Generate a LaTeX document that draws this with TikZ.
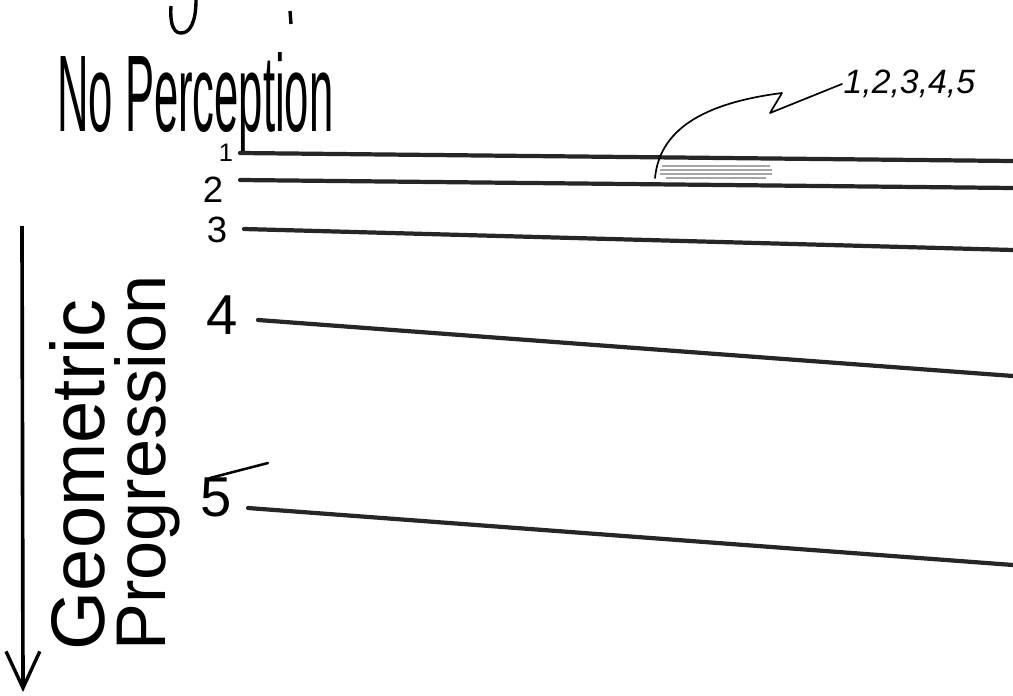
\documentclass[tikz,border=0pt]{standalone}
\usepackage{fontspec}
\setmainfont{Liberation Sans}
\usetikzlibrary{arrows.meta}

\begin{document}
\begin{tikzpicture}[x=0.025cm, y=-0.025cm,
        rule/.style={line width=3pt, black!85, line cap=round},
        num/.style={inner sep=0pt, font=\fontsize{#1}{#1}\selectfont},
        num/.default=22,
        pointer/.style={line width=1.2pt, black, line cap=round, line join=round},
        hatch/.style={line width=1.4pt, gray!70},
        axis/.style={line width=2.6pt, -{Straight Barb[length=26pt, width=24pt, line width=2.4pt]}}%
    ]
        \useasboundingbox (0,0) rectangle (1013,696);

        % bits of a line cut off above
        \draw[line width=2.4pt] (196,0) .. controls (196,22) and (190,34) .. (180,33) .. controls (172,32) and (170,20) .. (171,6);
        \draw[line width=2.4pt] (290,11) -- (291,24);

        \node[inner sep=0pt, text depth=0pt, anchor=base west, font=\fontsize{31}{31}\selectfont] (title) at (57,131) {\scalebox{1}[2.5]{No Perception}};

        \node[num=18] (n1) at (226,153) {1};
        \node[num=26] (n2) at (213,190) {2};
        \node[num=26] (n3) at (217,230) {3};
        \node[num=40] (n4) at (222,315) {4};
        \node[num=40] (n5) at (216,497) {5};

        \coordinate (a1) at (240,153);  \coordinate (b1) at (1013,161);
        \coordinate (a2) at (240,180);  \coordinate (b2) at (1013,188);
        \coordinate (a3) at (244,229);  \coordinate (b3) at (1013,250);
        \coordinate (a4) at (258,320);  \coordinate (b4) at (1013,376);
        \coordinate (a5) at (248,508);  \coordinate (b5) at (1013,565);

        \draw[rule] (a1) -- (b1);
        \draw[rule] (a2) -- (b2);
        \draw[rule] (a3) -- (b3);
        \draw[rule] (a4) -- (b4);
        \draw[rule] (a5) -- (b5);
        \draw[line width=1.8pt, line cap=round] (210,478) -- (268,463);

        \foreach \y/\s in {166/2, 170/0, 174/0, 178/6} \draw[hatch] (660+\s,\y) -- (772-\s,\y);
        \coordinate (hatch) at (655,178);

        \node[inner sep=1pt, anchor=west, font=\fontsize{24}{24}\selectfont\itshape] (lbl) at (842,84) {1,2,3,4,5};
        \draw[pointer] (hatch) .. controls (660,125) and (712,102) .. (782,93) -- (770,113) -- (lbl.west);

        \coordinate (top) at (22,226);
        \coordinate (bottom) at (23,692);
        \draw[axis] (top) -- (bottom);

        \node[rotate=90, inner sep=0pt, font=\fontsize{54}{54}\selectfont] (geo) at (77,475) {Geometric};
        \node[rotate=90, inner sep=0pt, font=\fontsize{50}{50}\selectfont] (prog) at (147,463) {Progression};
    \end{tikzpicture}
\end{document}
